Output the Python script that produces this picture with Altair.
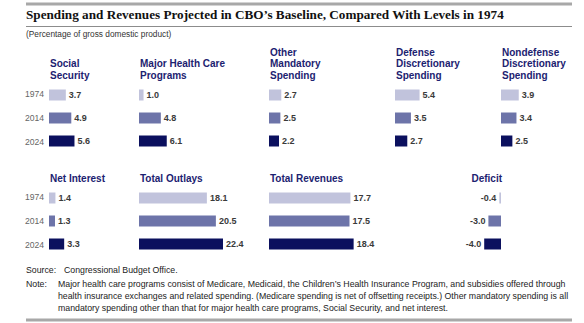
import altair as alt
import pandas as pd

# ---------------- data ----------------
years = ["1974", "2014", "2024"]
shades = ["#c1c3dc", "#6d74a9", "#0b105e"]

top_titles = [["Social", "Security"], ["Major Health Care", "Programs"], ["Other", "Mandatory", "Spending"],
              ["Defense", "Discretionary", "Spending"], ["Nondefense", "Discretionary", "Spending"]]
social_security = [3.7, 4.9, 5.6]
health_care = [1.0, 4.8, 6.1]
other_mandatory = [2.7, 2.5, 2.2]
defense = [5.4, 3.5, 2.7]
nondefense = [3.9, 3.4, 2.5]

bottom_titles = [["Net Interest"], ["Total Outlays"], ["Total Revenues"], ["Deficit"]]
net_interest = [1.4, 1.3, 3.3]
total_outlays = [18.1, 20.5, 22.4]
total_revenues = [17.7, 17.5, 18.4]
deficit = [-0.4, -3.0, -4.0]

title_text = "Spending and Revenues Projected in CBO\u2019s Baseline, Compared With Levels in 1974"
subtitle_text = "(Percentage of gross domestic product)"
source_label = "Source:"
source_text = "Congressional Budget Office."
note_label = "Note:"
note_lines = [
    "Major health care programs consist of Medicare, Medicaid, the Children\u2019s Health Insurance Program, and subsidies offered through",
    "health insurance exchanges and related spending. (Medicare spending is net of offsetting receipts.) Other mandatory spending is all",
    "mandatory spending other than that for major health care programs, Social Security, and net interest.",
]

# ---------------- style ----------------
SANS = "Liberation Sans, Arial, sans-serif"
SERIF = "Liberation Serif, Times New Roman, serif"
NAVY = "#1c2270"
BAR_H = 72
HDR_FS = 10
HDR_LH = 11.5
one = alt.Data(values=[{"k": 1}])

yscale = alt.Scale(domain=years, paddingInner=12 / 23, paddingOuter=7.5 / 23)
Y = alt.Y("year:N", scale=yscale, axis=None)
C = alt.Color("year:N", scale=alt.Scale(domain=years, range=shades), legend=None)


def blank(width, height):
    return alt.Chart(one).mark_point(opacity=0, size=0).encode(
        x=alt.value(0), y=alt.value(0)).properties(width=width, height=height)


def years_panel():
    df = pd.DataFrame({"year": years})
    return alt.Chart(df).mark_text(align="right", baseline="middle", font=SANS,
                                   fontSize=8.6, color="#666666").encode(
        x=alt.value(44), y=Y, text="year:N").properties(width=49, height=BAR_H)


def header(lines, width, height, last_center, right_at=None):
    n = len(lines)
    y_top = last_center - (n - 1) * HDR_LH - 0.44 * HDR_FS
    df = pd.DataFrame({"t": ["\n".join(lines)]})
    return alt.Chart(df).mark_text(
        lineBreak="\n", lineHeight=HDR_LH, align="right" if right_at is not None else "left",
        baseline="top", font=SANS, fontSize=HDR_FS, fontWeight="bold", color=NAVY
    ).encode(x=alt.value(right_at if right_at is not None else 1), y=alt.value(y_top),
             text="t:N").properties(width=width, height=height)


def panel(values, width, ppu, zero_px=0):
    df = pd.DataFrame({"year": years, "value": values})
    lo = -zero_px / ppu
    hi = (width - zero_px) / ppu
    X = alt.X("value:Q", scale=alt.Scale(domain=[lo, hi], nice=False), axis=None)
    base = alt.Chart(df)
    bars = base.mark_bar().encode(x=X, x2=alt.datum(0), y=Y, color=C)
    neg = zero_px > 0
    labels = base.transform_calculate(
        lbl="(datum.value < 0 ? '-' : '') + format(abs(datum.value), '.1f')"
    ).mark_text(align="right" if neg else "left", dx=-3 if neg else 3, baseline="middle",
                font=SANS, fontSize=9, fontWeight="bold", color="#3a3a3a").encode(
        x=X, y=Y, text="lbl:N")
    return alt.layer(bars, labels).properties(width=width, height=BAR_H)


# top block
top_rule = alt.Chart(one).mark_rule(color="#a8a8a8", strokeWidth=3).encode(
    x=alt.value(26), x2=alt.value(572), y=alt.value(4))
title_mark = alt.Chart(one).mark_text(align="left", baseline="middle", font=SERIF, fontSize=13.2,
                                      fontWeight="bold", color="#111111").encode(
    x=alt.value(26), y=alt.value(15), text=alt.value(title_text))
under_rule = alt.Chart(one).mark_rule(color="#8c8c8c", strokeWidth=1).encode(
    x=alt.value(26), x2=alt.value(572), y=alt.value(26.5))
subtitle_mark = alt.Chart(one).mark_text(align="left", baseline="middle", font=SANS, fontSize=8.3,
                                         color="#333333").encode(
    x=alt.value(26), y=alt.value(35), text=alt.value(subtitle_text))
top = alt.layer(top_rule, title_mark, under_rule, subtitle_mark).properties(width=584, height=44)

# footer
fsize = 8.75
ftxt = dict(align="left", baseline="middle", font=SANS, fontSize=fsize, color="#222222")
src_l = alt.Chart(one).mark_text(**ftxt).encode(x=alt.value(26), y=alt.value(13), text=alt.value(source_label))
src_t = alt.Chart(one).mark_text(**ftxt).encode(x=alt.value(64), y=alt.value(13), text=alt.value(source_text))
note_l = alt.Chart(one).mark_text(**ftxt).encode(x=alt.value(26), y=alt.value(27), text=alt.value(note_label))
note_t = alt.Chart(pd.DataFrame({"t": ["\n".join(note_lines)]})).mark_text(
    lineBreak="\n", lineHeight=12, **ftxt).encode(x=alt.value(58), y=alt.value(27), text="t:N")
bottom_rule = alt.Chart(one).mark_rule(color="#a8a8a8", strokeWidth=3).encode(
    x=alt.value(26), x2=alt.value(572), y=alt.value(63))
footer = alt.layer(src_l, src_t, note_l, note_t, bottom_rule).properties(width=584, height=66)

row1_vals = [social_security, health_care, other_mandatory, defense, nondefense]
row1_w = [90, 130, 126, 106, 83]
row2_vals = [net_interest, total_outlays, total_revenues, deficit]
row2_w = [90, 130, 126, 189]
row2_ppu = [4.6, 3.75, 4.6, 4.2]
row2_zero = [0, 0, 0, 106]

H1 = 38
H2 = 31
hdr1 = alt.hconcat(blank(49, H1), *[header(t, w, H1, 31) for t, w in zip(top_titles, row1_w)], spacing=0)
bars1 = alt.hconcat(years_panel(), *[panel(v, w, 4.55) for v, w in zip(row1_vals, row1_w)], spacing=0)
hdr2 = alt.hconcat(blank(49, H2), *[header(t, w, H2, 24, (z + 1) if z else None)
                                    for t, w, z in zip(bottom_titles, row2_w, row2_zero)], spacing=0)
bars2 = alt.hconcat(years_panel(), *[panel(v, w, p, z) for v, w, p, z in
                                     zip(row2_vals, row2_w, row2_ppu, row2_zero)], spacing=0)

chart = alt.vconcat(top, hdr1, bars1, hdr2, bars2, footer, spacing=0).properties(
    padding=0, background="white").configure_view(stroke=None)

chart.save("out.html", embed_options={"renderer": "svg", "actions": False})
